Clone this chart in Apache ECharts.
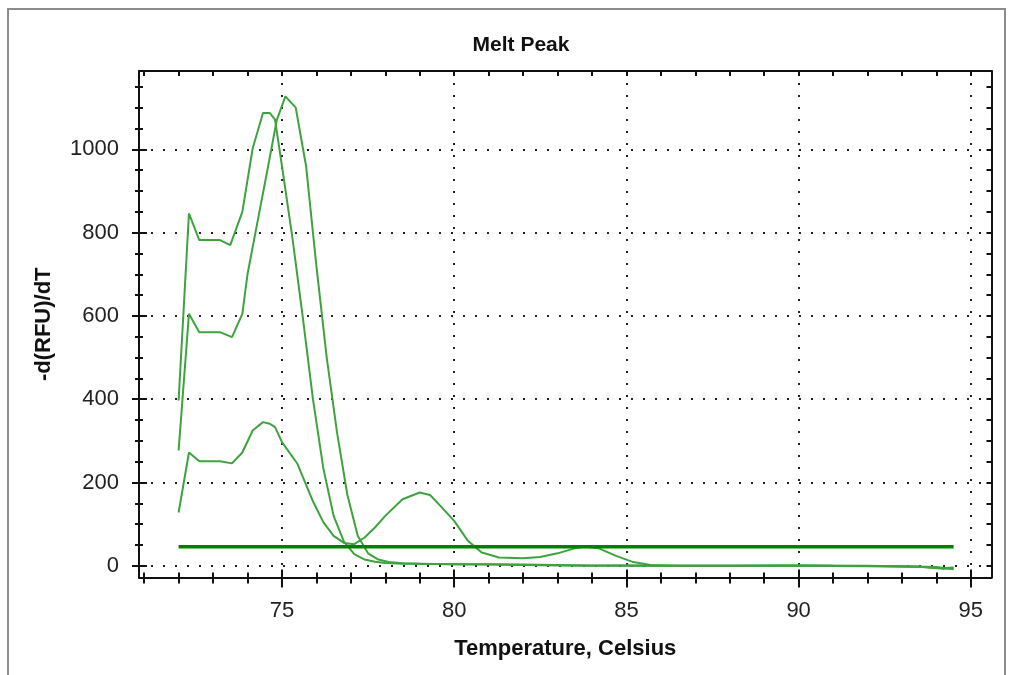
<!DOCTYPE html>
<html>
<head>
<meta charset="utf-8">
<script src="https://cdn.jsdelivr.net/npm/echarts@6/dist/echarts.min.js"></script>
<style>html,body{margin:0;padding:0;background:#fff;}#c{width:1010px;height:675px;}</style>
</head>
<body>
<div id="c"></div>
<script>
// ---- data ----
const titleText = 'Melt Peak';
const xName = 'Temperature, Celsius';
const yName = '-d(RFU)/dT';
const xMajorTicks = [75, 80, 85, 90, 95];
const xMinorTicks = [71,72,73,74,75,76,77,78,79,80,81,82,83,84,85,86,87,88,89,90,91,92,93,94,95];
const yMajorTicks = [0, 200, 400, 600, 800, 1000];
const yMinorTicks = [0,50,100,150,200,250,300,350,400,450,500,550,600,650,700,750,800,850,900,950,1000,1050,1100,1150];

const curve1 = [[72.0,397],[72.3,846],[72.6,782],[72.9,782],[73.2,782],[73.5,770],[73.85,850],[74.15,1002],[74.45,1087],[74.65,1087],[74.8,1071],[75.0,960],[75.3,790],[75.6,600],[75.9,400],[76.2,235],[76.5,120],[76.8,58],[77.1,28],[77.4,15],[77.7,10],[78.0,7],[78.5,5],[79,5],[80,4],[81,3],[82,2],[83,1],[84,0],[85,1],[86,0],[88,0],[90,1],[92,0],[93.5,-2],[94.2,-6],[94.5,-4]];
const curve2 = [[72.0,277],[72.3,605],[72.6,561],[72.9,561],[73.2,561],[73.55,549],[73.85,605],[74.0,700],[74.3,830],[74.6,960],[74.85,1070],[75.1,1127],[75.4,1100],[75.7,960],[76.0,720],[76.3,500],[76.6,320],[76.9,170],[77.2,72],[77.5,30],[77.8,15],[78.1,9],[78.5,6],[79,5],[80,4],[81,4],[82,3],[83,2],[84,1],[85,1],[86,0],[88,0],[90,0],[92,-1],[93.5,-2],[94.2,-7],[94.5,-5]];
const curve3 = [[72.0,128],[72.3,272],[72.6,251],[72.9,251],[73.2,251],[73.55,246],[73.85,272],[74.15,325],[74.45,345],[74.65,341],[74.8,333],[75.0,297],[75.45,245],[75.9,155],[76.2,105],[76.5,72],[76.8,55],[77.1,52],[77.4,68],[77.7,92],[78.0,120],[78.5,160],[79.0,176],[79.3,170],[79.6,144],[80.0,108],[80.4,60],[80.8,32],[81.3,20],[82.0,18],[82.5,21],[83.0,30],[83.5,42],[83.8,46],[84.2,42],[84.7,24],[85.2,9],[85.7,2],[86.5,0],[88,0],[90,1],[91,0],[93,-1],[94,-3],[94.5,-8]];
const threshold = [[72.0,46],[94.5,46]];

const X_MIN = 70.85, X_MAX = 95.6, Y_MIN = -28, Y_MAX = 1188;

// ---- chart ----
const FONT = 'Liberation Sans, Arial, sans-serif';
const INK = '#111';
const dotted = {type: [2, 10], color: '#222', width: 2};

function xAx(extra) {
  return Object.assign({
    type: 'value', min: X_MIN, max: X_MAX, gridIndex: 0, position: 'bottom',
    axisLine: {show: false, onZero: false},
    axisTick: {show: false}, axisLabel: {show: false}, splitLine: {show: false}
  }, extra);
}
function yAx(extra) {
  return Object.assign({
    type: 'value', min: Y_MIN, max: Y_MAX, gridIndex: 0, position: 'left',
    axisLine: {show: false, onZero: false},
    axisTick: {show: false}, axisLabel: {show: false}, splitLine: {show: false}
  }, extra);
}

const chart = echarts.init(document.getElementById('c'), null, {renderer: 'canvas'});
const lineColor = '#3ea33e';
function curveSeries(d) {
  return {type: 'line', data: d, xAxisIndex: 0, yAxisIndex: 0, showSymbol: false, symbol: 'none',
    lineStyle: {color: lineColor, width: 2}, z: 3, silent: true};
}

chart.setOption({
  animation: false,
  backgroundColor: '#fff',
  title: {text: titleText, left: 516, top: 30, textAlign: 'center',
    textStyle: {fontFamily: FONT, fontSize: 21, fontWeight: 'bold', color: '#111'}},
  grid: {left: 139, right: 18.5, top: 71, bottom: 97.5, containLabel: false},
  graphic: [{type: 'rect', silent: true, z: -10,
    shape: {x: 8, y: 9, width: 997, height: 700},
    style: {fill: 'none', stroke: '#8c8c8c', lineWidth: 2}}],
  xAxis: [
    xAx({axisLine: {show: true, onZero: false, lineStyle: {color: INK, width: 2}},
      axisTick: {show: true, customValues: xMajorTicks, length: 10, lineStyle: {color: INK, width: 2}},
      axisLabel: {show: true, customValues: xMajorTicks, margin: 22, fontFamily: FONT, fontSize: 22, color: '#222',
        formatter: v => String(v)},
      splitLine: {show: true, lineStyle: dotted},
      name: xName, nameLocation: 'middle', nameGap: 60,
      nameTextStyle: {fontFamily: FONT, fontSize: 22, fontWeight: 'bold', color: '#111'}}),
    xAx({axisTick: {show: true, inside: true, customValues: xMajorTicks, length: 8, lineStyle: {color: INK, width: 2}}}),
    xAx({axisTick: {show: true, customValues: xMinorTicks, length: 6, lineStyle: {color: INK, width: 2}}}),
    xAx({axisTick: {show: true, inside: true, customValues: xMinorTicks, length: 5, lineStyle: {color: INK, width: 2}}}),
    xAx({position: 'top', axisLine: {show: true, onZero: false, lineStyle: {color: INK, width: 2}},
      axisTick: {show: true, inside: true, customValues: xMinorTicks, length: 5, lineStyle: {color: INK, width: 2}}})
  ],
  yAxis: [
    yAx({axisLine: {show: true, onZero: false, lineStyle: {color: INK, width: 2}},
      axisTick: {show: true, customValues: yMajorTicks, length: 7, lineStyle: {color: INK, width: 2}},
      axisLabel: {show: true, customValues: yMajorTicks, margin: 20, fontFamily: FONT, fontSize: 22, color: '#222',
        formatter: v => String(v)},
      splitLine: {show: true, lineStyle: dotted},
      name: yName, nameLocation: 'middle', nameGap: 84, nameRotate: 90,
      nameTextStyle: {fontFamily: FONT, fontSize: 22, fontWeight: 'bold', color: '#111'}}),
    yAx({axisTick: {show: true, inside: true, customValues: yMajorTicks, length: 8, lineStyle: {color: INK, width: 2}}}),
    yAx({axisTick: {show: true, customValues: yMinorTicks, length: 4, lineStyle: {color: INK, width: 2}}}),
    yAx({axisTick: {show: true, inside: true, customValues: yMinorTicks, length: 4, lineStyle: {color: INK, width: 2}}}),
    yAx({position: 'right', axisLine: {show: true, onZero: false, lineStyle: {color: INK, width: 2}},
      axisTick: {show: true, inside: true, customValues: yMinorTicks, length: 5, lineStyle: {color: INK, width: 2}}})
  ],
  series: [
    curveSeries(curve1),
    curveSeries(curve2),
    curveSeries(curve3),
    {type: 'line', data: threshold, xAxisIndex: 0, yAxisIndex: 0, showSymbol: false, symbol: 'none',
      lineStyle: {color: '#008000', width: 3.5}, z: 4, silent: true}
  ]
});
</script>
</body>
</html>
